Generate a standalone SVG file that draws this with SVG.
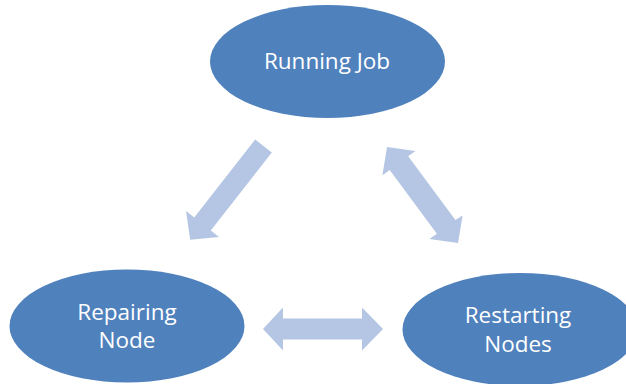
<svg xmlns="http://www.w3.org/2000/svg" width="626" height="384" viewBox="0 0 626 384">
<style>
.node{fill:#4f81bd;}
.lbl{fill:#ffffff;font-family:"Open Sans","Liberation Sans",sans-serif;font-size:22.5px;text-anchor:middle;}
.arr{fill:#b4c6e3;}
</style>
<rect width="626" height="384" fill="#ffffff"/>
<g id="connectors">
<polygon class="arr" points="255.2,139.5 271.8,152.5 210.8,230.5 219,236.9 190.2,239.8 186,211.1 194.2,217.5"/>
<polygon class="arr" points="387,147 415.4,150.9 408.2,156.3 455.4,220.1 462.6,215.4 458,243 429.6,239.1 436.9,233.7 389.7,169.9 382.4,175.3"/>
<polygon class="arr" points="263,329 283,307.5 283,318.5 362,318.5 362,307.5 383,329 362,350.5 362,339.5 283,339.5 283,350.5"/>
</g>
<g id="running-job">
<ellipse class="node" cx="327.5" cy="61.5" rx="117.5" ry="56.5"/>
<text class="lbl" x="327" y="69">Running Job</text>
</g>
<g id="repairing-node">
<ellipse class="node" cx="127" cy="326" rx="117.5" ry="56.5"/>
<text class="lbl" x="127" y="320">Repairing</text>
<text class="lbl" x="127" y="348">Node</text>
</g>
<g id="restarting-nodes">
<ellipse class="node" cx="520" cy="329.5" rx="117.5" ry="56.5"/>
<text class="lbl" x="518" y="323">Restarting</text>
<text class="lbl" x="518" y="352">Nodes</text>
</g>
</svg>
